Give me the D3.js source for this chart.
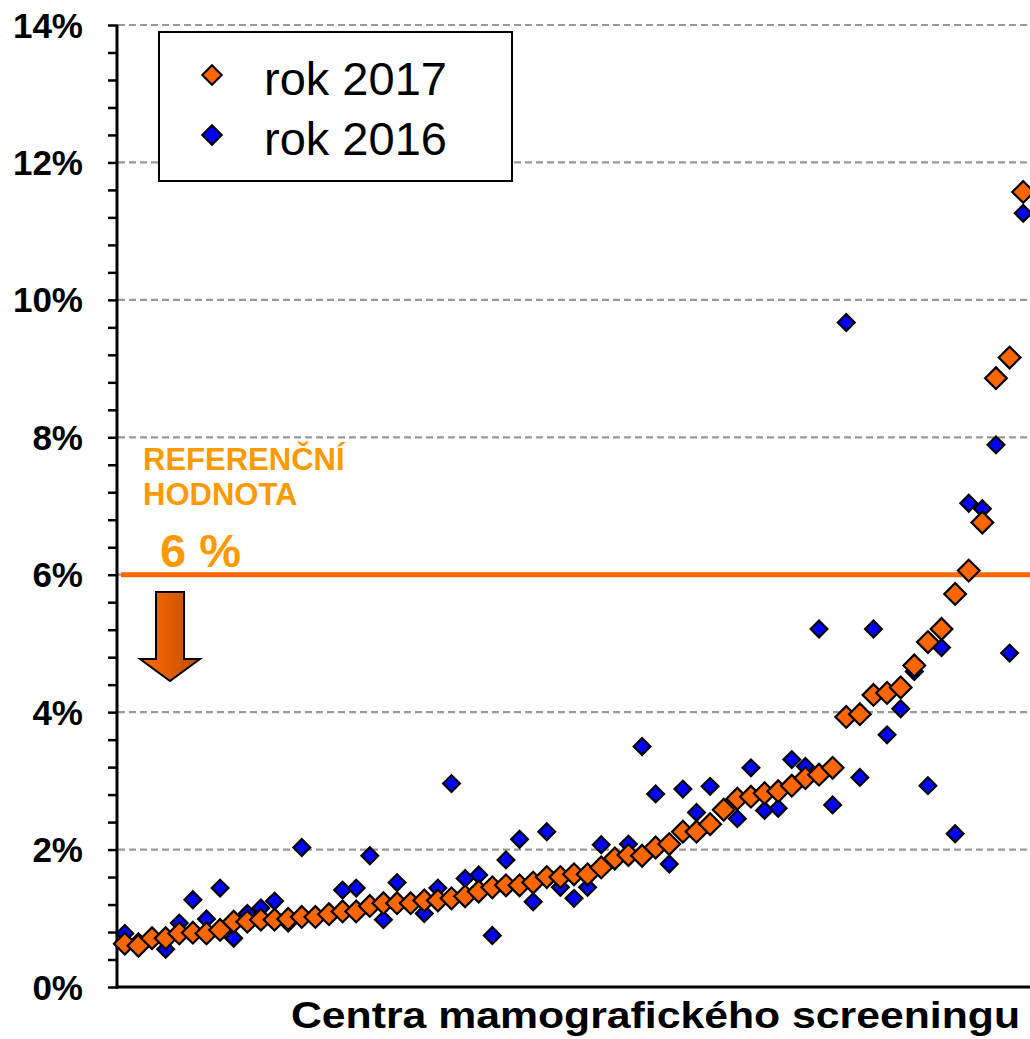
<!DOCTYPE html>
<html>
<head>
<meta charset="utf-8">
<script src="https://cdn.jsdelivr.net/npm/d3@7"></script>
<style>
    body { margin: 0; background: #fff; }
    svg { display: block; font-family: "Liberation Sans", Arial, sans-serif; }
</style>
</head>
<body>
<div id="chart"></div>
<script>
// screening centres, sorted by 2017 value
let centers = d3.range(1, 68);

// rok 2017 (orange) in %
let rok2017 = [
    0.63, 0.60, 0.71, 0.71, 0.78, 0.79, 0.78, 0.83, 0.95, 0.95,
    0.98, 0.98, 0.99, 1.02, 1.02, 1.06, 1.10, 1.10, 1.18, 1.22,
    1.22, 1.22, 1.26, 1.26, 1.29, 1.32, 1.39, 1.45, 1.48, 1.48,
    1.52, 1.60, 1.60, 1.64, 1.64, 1.74, 1.87, 1.92, 1.91, 2.03,
    2.08, 2.26, 2.26, 2.37, 2.58, 2.74, 2.77, 2.82, 2.85, 2.93,
    3.04, 3.09, 3.19, 3.93, 3.97, 4.25, 4.28, 4.36, 4.68, 5.02,
    5.21, 5.72, 6.06, 6.76, 8.86, 9.16, 11.57
];

// rok 2016 (blue) in %
let rok2016 = [
    0.78, 0.66, 0.68, 0.55, 0.93, 1.27, 0.99, 1.44, 0.71, 1.07,
    1.15, 1.25, 0.93, 2.03, 1.00, 1.04, 1.41, 1.44, 1.91, 0.98,
    1.52, 1.20, 1.07, 1.44, 2.96, 1.58, 1.63, 0.75, 1.85, 2.15,
    1.24, 2.26, 1.45, 1.29, 1.45, 2.07, 1.88, 2.08, 3.50, 2.81,
    1.79, 2.88, 2.54, 2.92, 2.55, 2.45, 3.19, 2.57, 2.60, 3.31,
    3.21, 5.21, 2.65, 9.67, 3.05, 5.21, 3.67, 4.05, 4.59, 2.93,
    4.94, 2.23, 7.04, 6.96, 7.89, 4.86, 11.26
];

let gridValues = [2, 4, 6, 8, 10, 12, 14];
let tickValues = d3.range(0, 14.001, 0.4);
let labelValues = [0, 2, 4, 6, 8, 10, 12, 14];
let referenceValue = 6;
let seriesNames = ["rok 2017", "rok 2016"];

function drawChart() {
    let frame = { width: 1030, height: 1039 },
        plot = { left: 118, right: 1030, top: 25, bottom: 987 };

    let svg = d3.select('#chart').append('svg')
        .attr('width', frame.width)
        .attr('height', frame.height);

    let defs = svg.append('defs');
    let grad = defs.append('linearGradient')
        .attr('id', 'arrowGrad')
        .attr('x1', '0%').attr('x2', '100%')
        .attr('y1', '0%').attr('y2', '0%');
    grad.append('stop').attr('offset', '0%').attr('stop-color', '#ff6a00');
    grad.append('stop').attr('offset', '100%').attr('stop-color', '#c04e00');

    let x = d3.scaleBand()
        .domain(centers)
        .range([plot.left, plot.right]);

    let y = d3.scaleLinear()
        .domain([0, 14])
        .range([plot.bottom, plot.top]);

    let cx = function (i) { return x(centers[i]) + x.bandwidth() / 2; };

    // dashed grid lines
    svg.append('g')
        .selectAll('line')
        .data(gridValues)
        .enter().append('line')
        .attr('x1', plot.left)
        .attr('x2', plot.right)
        .attr('y1', function (d) { return y(d); })
        .attr('y2', function (d) { return y(d); })
        .attr('stroke', '#999')
        .attr('stroke-width', 2.2)
        .attr('stroke-dasharray', '7,4');

    // y axis with minor ticks
    let yAxis = svg.append('g')
        .attr('transform', 'translate(' + plot.left + ',0)')
        .call(d3.axisLeft(y)
            .tickValues(tickValues)
            .tickSize(10)
            .tickFormat(''));
    yAxis.select('.domain').remove();
    yAxis.selectAll('.tick line')
        .attr('stroke', '#000')
        .attr('stroke-width', 2.5);

    // y labels
    svg.append('g')
        .selectAll('text')
        .data(labelValues)
        .enter().append('text')
        .attr('x', 83)
        .attr('y', function (d) { return y(d); })
        .attr('dy', '0.36em')
        .attr('text-anchor', 'end')
        .style('font-size', '35px')
        .style('font-weight', 'bold')
        .text(function (d) { return d + '%'; });

    // axis lines
    svg.append('line')
        .attr('x1', plot.left - 1).attr('x2', plot.left - 1)
        .attr('y1', plot.top).attr('y2', plot.bottom + 1.5)
        .attr('stroke', '#000').attr('stroke-width', 3);
    svg.append('line')
        .attr('x1', plot.left - 2.5).attr('x2', plot.right)
        .attr('y1', plot.bottom).attr('y2', plot.bottom)
        .attr('stroke', '#000').attr('stroke-width', 3);

    // reference line 6 %
    svg.append('line')
        .attr('x1', plot.left + 3).attr('x2', plot.right)
        .attr('y1', y(referenceValue)).attr('y2', y(referenceValue))
        .attr('stroke', '#ff6600')
        .attr('stroke-width', 5);

    let note = svg.append('g')
        .style('fill', '#ff9900')
        .style('font-weight', 'bold');
    note.append('text')
        .attr('x', 143).attr('y', 470)
        .style('font-size', '31px')
        .text('REFERENČNÍ');
    note.append('text')
        .attr('x', 143).attr('y', 505)
        .style('font-size', '31px')
        .text('HODNOTA');
    note.append('text')
        .attr('x', 160).attr('y', 567)
        .style('font-size', '47px')
        .text('6 %');

    // down arrow
    let arrowPts = [[156, 592], [184, 592], [184, 659], [200, 659],
        [170, 681], [140, 659], [156, 659]];
    svg.append('path')
        .attr('d', d3.line()(arrowPts) + 'Z')
        .attr('fill', 'url(#arrowGrad)')
        .attr('stroke', '#000')
        .attr('stroke-width', 2)
        .attr('stroke-linejoin', 'miter');

    // points - 2016 first so 2017 sits on top
    let blueSym = d3.symbol().type(d3.symbolSquare).size(140);
    let orangeSym = d3.symbol().type(d3.symbolSquare).size(235);

    svg.append('g')
        .selectAll('path')
        .data(rok2016)
        .enter().append('path')
        .attr('d', blueSym)
        .attr('transform', function (d, i) {
            return 'translate(' + cx(i) + ',' + y(d) + ') rotate(45)';
        })
        .attr('fill', '#0000ff')
        .attr('stroke', '#000')
        .attr('stroke-width', 2.2);

    svg.append('g')
        .selectAll('path')
        .data(rok2017)
        .enter().append('path')
        .attr('d', orangeSym)
        .attr('transform', function (d, i) {
            return 'translate(' + cx(i) + ',' + y(d) + ') rotate(45)';
        })
        .attr('fill', '#ff6600')
        .attr('stroke', '#000')
        .attr('stroke-width', 2.2);

    // legend
    let legend = svg.append('g');
    legend.append('rect')
        .attr('x', 159).attr('y', 32)
        .attr('width', 353).attr('height', 149)
        .attr('fill', '#fff')
        .attr('stroke', '#000')
        .attr('stroke-width', 2);
    let legendColors = ['#ff6600', '#0000ff'];
    let legendSym = d3.symbol().type(d3.symbolSquare).size(190);
    seriesNames.forEach(function (name, i) {
        let ly = 75 + i * 60;
        legend.append('path')
            .attr('d', legendSym)
            .attr('transform', 'translate(212,' + ly + ') rotate(45)')
            .attr('fill', legendColors[i])
            .attr('stroke', '#000')
            .attr('stroke-width', 2);
        legend.append('text')
            .attr('x', 264).attr('y', ly + 20)
            .style('font-size', '47px')
            .text(name);
    });

    // x axis title
    svg.append('text')
        .attr('x', 291).attr('y', 1028)
        .attr('textLength', 729)
        .attr('lengthAdjust', 'spacingAndGlyphs')
        .style('font-size', '37px')
        .style('font-weight', 'bold')
        .text('Centra mamografického screeningu');
}

drawChart();
</script>
</body>
</html>
